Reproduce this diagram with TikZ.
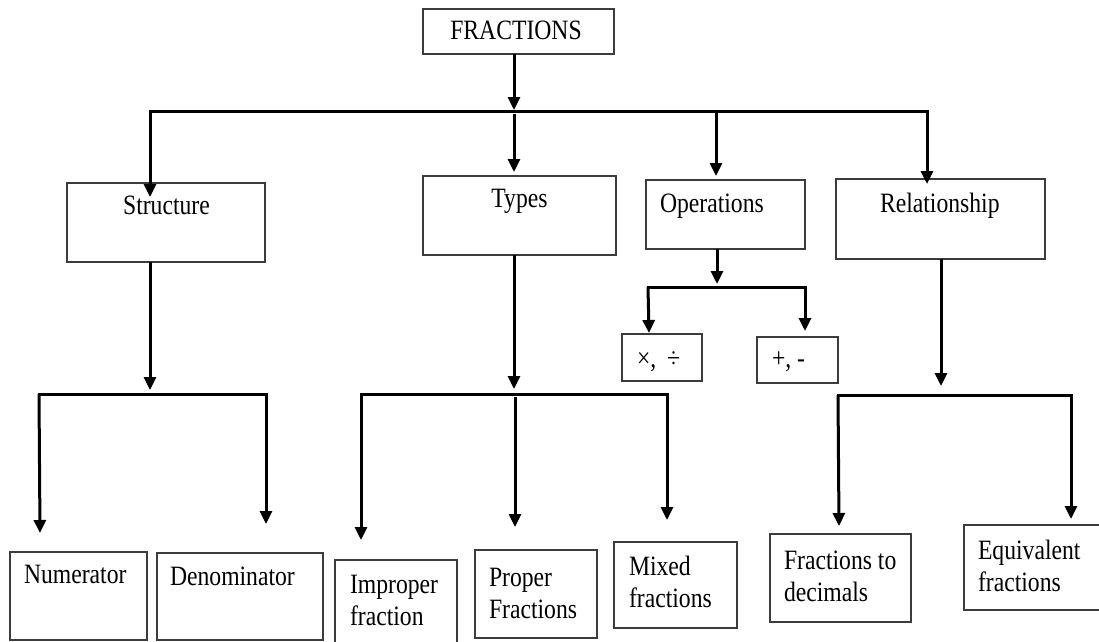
\documentclass[tikz,border=0pt]{standalone}
\usepackage{fontspec}
\setmainfont{Liberation Serif}[FakeStretch=0.845]
\usetikzlibrary{arrows.meta}
\definecolor{boxgray}{RGB}{60,60,60}
\newcommand{\twoline}[2]{\vtop{\hbox{#1}\hbox{#2}}}
\begin{document}
\begin{tikzpicture}[x=1pt,y=-1pt,
  box/.style={draw=boxgray, line width=1.2pt, inner sep=0pt, outer sep=0pt, fill=white},
  txt/.style={inner sep=0pt, outer sep=0pt, font=\fontsize{28}{32}\selectfont, anchor=base west},
  ctxt/.style={txt, anchor=base},
  arr/.style={line width=3pt, -{Triangle[length=13pt,width=12pt]}},
  bar/.style={line width=3pt, line cap=rect}]
\useasboundingbox (0,0) rectangle (1099,641);

% ---- boxes ----
\node[box, minimum width=191pt, minimum height=45pt] (fractions)    at (518.5,31.5) {};
\node[box, minimum width=198pt, minimum height=79pt] (structure)    at (166,222.5) {};
\node[box, minimum width=193pt, minimum height=79pt] (types)        at (519.5,215.5) {};
\node[box, minimum width=159pt, minimum height=69pt] (operations)   at (725.5,214.5) {};
\node[box, minimum width=209pt, minimum height=80pt] (relationship) at (940.5,219) {};
\node[box, minimum width=80pt,  minimum height=47pt] (times)        at (662,357.5) {};
\node[box, minimum width=81pt,  minimum height=46pt] (plus)         at (797.5,360) {};
\node[box, minimum width=137pt, minimum height=88pt] (numerator)    at (78.5,596) {};
\node[box, minimum width=166pt, minimum height=87pt] (denominator)  at (240,596.5) {};
\node[box, minimum width=122pt, minimum height=86pt] (improper)     at (396,603) {};
\node[box, minimum width=122pt, minimum height=88pt] (proper)       at (536,594) {};
\node[box, minimum width=123pt, minimum height=86pt] (mixed)        at (675.5,585) {};
\node[box, minimum width=141pt, minimum height=88pt] (decimals)     at (840.5,578) {};
\node[box, minimum width=139pt, minimum height=85pt] (equivalent)   at (1033.5,567.5) {};

% ---- texts ----
\node[ctxt] (tFractions)    at (516,39)   {FRACTIONS};
\node[ctxt] (tStructure)    at (166.5,214) {Structure};
\node[ctxt] (tTypes)        at (519.5,207) {Types};
\node[txt]  (tOperations)   at (660,212)  {Operations};
\node[txt]  (tRelationship) at (880,212)  {Relationship};
\node[txt]  (tTimes)        at (637,367)  {×,\hspace{11pt}÷};
\node[txt]  (tPlus)         at (772,367)  {+, -};
\node[txt]  (tNumerator)    at (24,583)   {Numerator};
\node[txt]  (tDenominator)  at (170,585)  {Denominator};
\node[txt]  (tImproper)     at (350,593)  {\twoline{Improper}{fraction}};
\node[txt]  (tProper)       at (489,586)  {\twoline{Proper}{Fractions}};
\node[txt]  (tMixed)        at (629,575)  {\twoline{Mixed}{fractions}};
\node[txt]  (tDecimals)     at (784,569)  {\twoline{Fractions to}{decimals}};
\node[txt]  (tEquivalent)   at (978,559)  {\twoline{Equivalent}{fractions}};

% ---- level 1 connectors ----
\coordinate (t0) at (514,110);
\coordinate (tL) at (150,111);
\coordinate (tR) at (927,111);
\coordinate (tT) at (514,114);
\coordinate (tO) at (716,111);
\draw[arr] (fractions.south -| t0) -- (t0);
\draw[bar] (tL) -- (tR);
\coordinate (sIn) at (150,197);
\coordinate (tyIn) at (514,172);
\coordinate (oIn) at (716,176);
\coordinate (rIn) at (927,184);
\draw[arr] (tL) -- (sIn);
\draw[arr] (tT) -- (tyIn);
\draw[arr] (tO) -- (oIn);
\draw[arr] (tR) -- (rIn);

% ---- Structure branch ----
\coordinate (sB) at (150,390);
\coordinate (sL) at (39,394);
\coordinate (sR) at (266,394);
\coordinate (sLt) at (40,533);
\coordinate (sRt) at (266,524);
\draw[arr] (structure.south -| sB) -- (sB);
\draw[bar] (sL) -- (sR);
\draw[arr] (sL) -- (sLt);
\draw[arr] (sR) -- (sRt);

% ---- Types branch ----
\coordinate (yB) at (514,389);
\coordinate (yL) at (361,394);
\coordinate (yR) at (667,394);
\coordinate (yM) at (515,397);
\coordinate (yLt) at (361,540);
\coordinate (yMt) at (515,527);
\coordinate (yRt) at (667,520);
\draw[arr] (types.south -| yB) -- (yB);
\draw[bar] (yL) -- (yR);
\draw[arr] (yL) -- (yLt);
\draw[arr] (yM) -- (yMt);
\draw[arr] (yR) -- (yRt);

% ---- Operations branch ----
\coordinate (oB) at (717,284);
\coordinate (oL) at (648,287);
\coordinate (oR) at (805,287);
\coordinate (oLt) at (649,333);
\coordinate (oRt) at (805,331);
\draw[arr] (operations.south -| oB) -- (oB);
\draw[bar] (oL) -- (oR);
\draw[arr] (oL) -- (oLt);
\draw[arr] (oR) -- (oRt);

% ---- Relationship branch ----
\coordinate (rB) at (941,386);
\coordinate (rL) at (838,395);
\coordinate (rR) at (1071,395);
\coordinate (rLt) at (839,526);
\coordinate (rRt) at (1071,519);
\draw[arr] (relationship.south -| rB) -- (rB);
\draw[bar] (rL) -- (rR);
\draw[arr] (rL) -- (rLt);
\draw[arr] (rR) -- (rRt);
\end{tikzpicture}
\end{document}
